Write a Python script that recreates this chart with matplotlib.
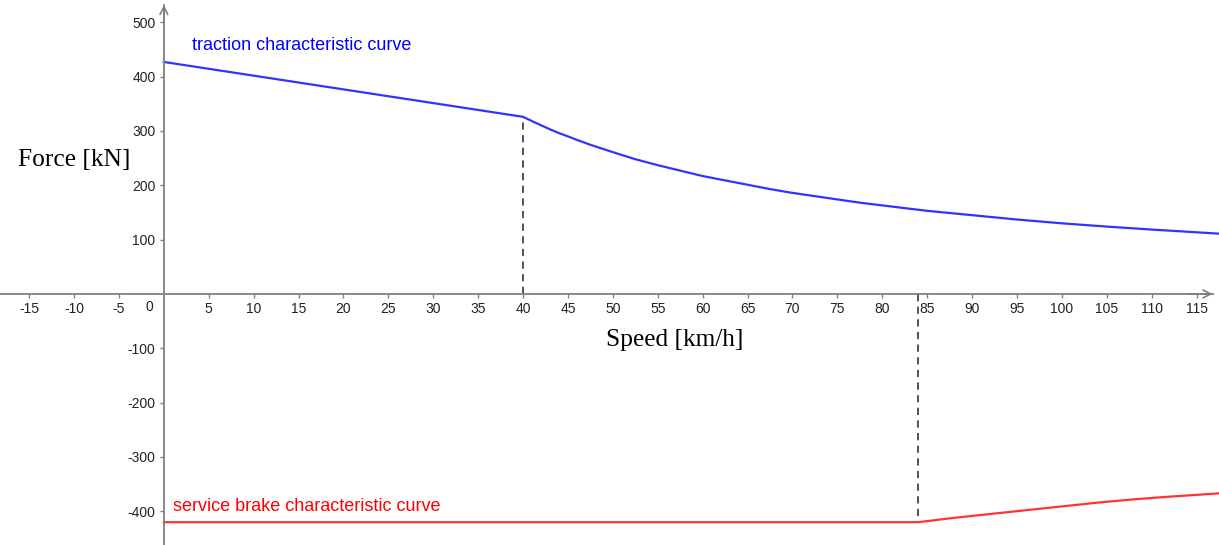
import matplotlib
matplotlib.use("Agg")
import matplotlib.pyplot as plt

# Traction characteristic (speed in km/h, force in kN)
traction_speed = [0, 40, 41, 42, 43, 44, 45, 46, 47.5, 50, 52.5, 55, 57.5, 60,
                  62.5, 65, 67.5, 70, 72.5, 75, 77.5, 80, 85, 90, 95, 100,
                  105, 110, 117.5]
traction_force = [427, 326, 318, 310.5, 303, 296, 290, 283.5, 274.5, 261, 248,
                  237, 227, 217, 209, 201, 193, 186, 180, 174, 168, 163, 153,
                  145, 137, 130, 124, 118.5, 111]

# Service brake characteristic
brake_speed = [0, 84, 86, 88, 90, 92, 96, 100, 104, 108, 112, 117.5]
brake_force = [-420, -420, -416, -412, -408.5, -405, -398, -391, -384, -378,
               -373, -367]

# Corner speeds marked with dashed guides
traction_corner = (40, 326)
brake_corner = (84, -420)

x_ticks = [-15, -10, -5, 5, 10, 15, 20, 25, 30, 35, 40, 45, 50, 55, 60, 65,
           70, 75, 80, 85, 90, 95, 100, 105, 110, 115]
y_ticks = [-400, -300, -200, -100, 100, 200, 300, 400, 500]

XMIN, XMAX = -18.25, 117.5
YMIN, YMAX = -462, 541
AXIS_GRAY = "#808080"

fig = plt.figure(figsize=(12.19, 5.45), dpi=100)
ax = fig.add_axes([0, 0, 1, 1])
ax.set_xlim(XMIN, XMAX)
ax.set_ylim(YMIN, YMAX)

# Axes through the origin
for side in ("top", "right"):
    ax.spines[side].set_visible(False)
ax.spines["left"].set_position(("data", 0))
ax.spines["bottom"].set_position(("data", 0))
ax.spines["left"].set_bounds(YMIN, 532)
ax.spines["bottom"].set_bounds(XMIN, 116.8)
for side in ("left", "bottom"):
    ax.spines[side].set_color(AXIS_GRAY)
    ax.spines[side].set_linewidth(1.3)

# Open arrowheads at the positive ends
ax.annotate("", xy=(116.8, 0), xytext=(114, 0),
            arrowprops=dict(arrowstyle="->", color=AXIS_GRAY, lw=1.2,
                            mutation_scale=14, shrinkA=0, shrinkB=0))
ax.annotate("", xy=(0, 532), xytext=(0, 500),
            arrowprops=dict(arrowstyle="->", color=AXIS_GRAY, lw=1.2,
                            mutation_scale=14, shrinkA=0, shrinkB=0))

tick_font = {"family": "Liberation Sans", "size": 10}
ax.set_xticks(x_ticks)
ax.set_xticklabels([str(t) for t in x_ticks], fontdict=tick_font)
ax.set_yticks(y_ticks)
ax.set_yticklabels([str(t) for t in y_ticks], fontdict=tick_font)
ax.tick_params(axis="both", direction="out", length=3, width=1,
               color=AXIS_GRAY, labelcolor="#222222")
ax.tick_params(axis="x", pad=3)
ax.tick_params(axis="y", pad=3)
ax.text(-1.2, -11, "0", ha="right", va="top", color="#222222", **tick_font)

# Dashed guides at the corner speeds
ax.plot([traction_corner[0]] * 2, [0, traction_corner[1]],
        ls=(0, (4, 3)), color="#444444", lw=1.3)
ax.plot([brake_corner[0]] * 2, [0, brake_corner[1]],
        ls=(0, (4, 3)), color="#444444", lw=1.3)

# Characteristic curves
ax.plot(traction_speed, traction_force, color="#3333ff", lw=1.6,
        solid_joinstyle="round", clip_on=False)
ax.plot(brake_speed, brake_force, color="#ff3333", lw=1.6,
        solid_joinstyle="round", clip_on=False)

ax.text(3.1, 458, "traction characteristic curve", color="#0000ff",
        family="Liberation Sans", size=13, va="center", ha="left")
ax.text(1.0, -392, "service brake characteristic curve", color="#ff0000",
        family="Liberation Sans", size=13, va="center", ha="left")

# Axis titles
ax.text(-16.3, 246, "Force [kN]", family="Liberation Serif", size=18.3,
        va="center", ha="left", color="black")
ax.text(49.2, -84, "Speed [km/h]", family="Liberation Serif", size=18.3,
        va="center", ha="left", color="black")

fig.savefig("out.png", dpi=100)
